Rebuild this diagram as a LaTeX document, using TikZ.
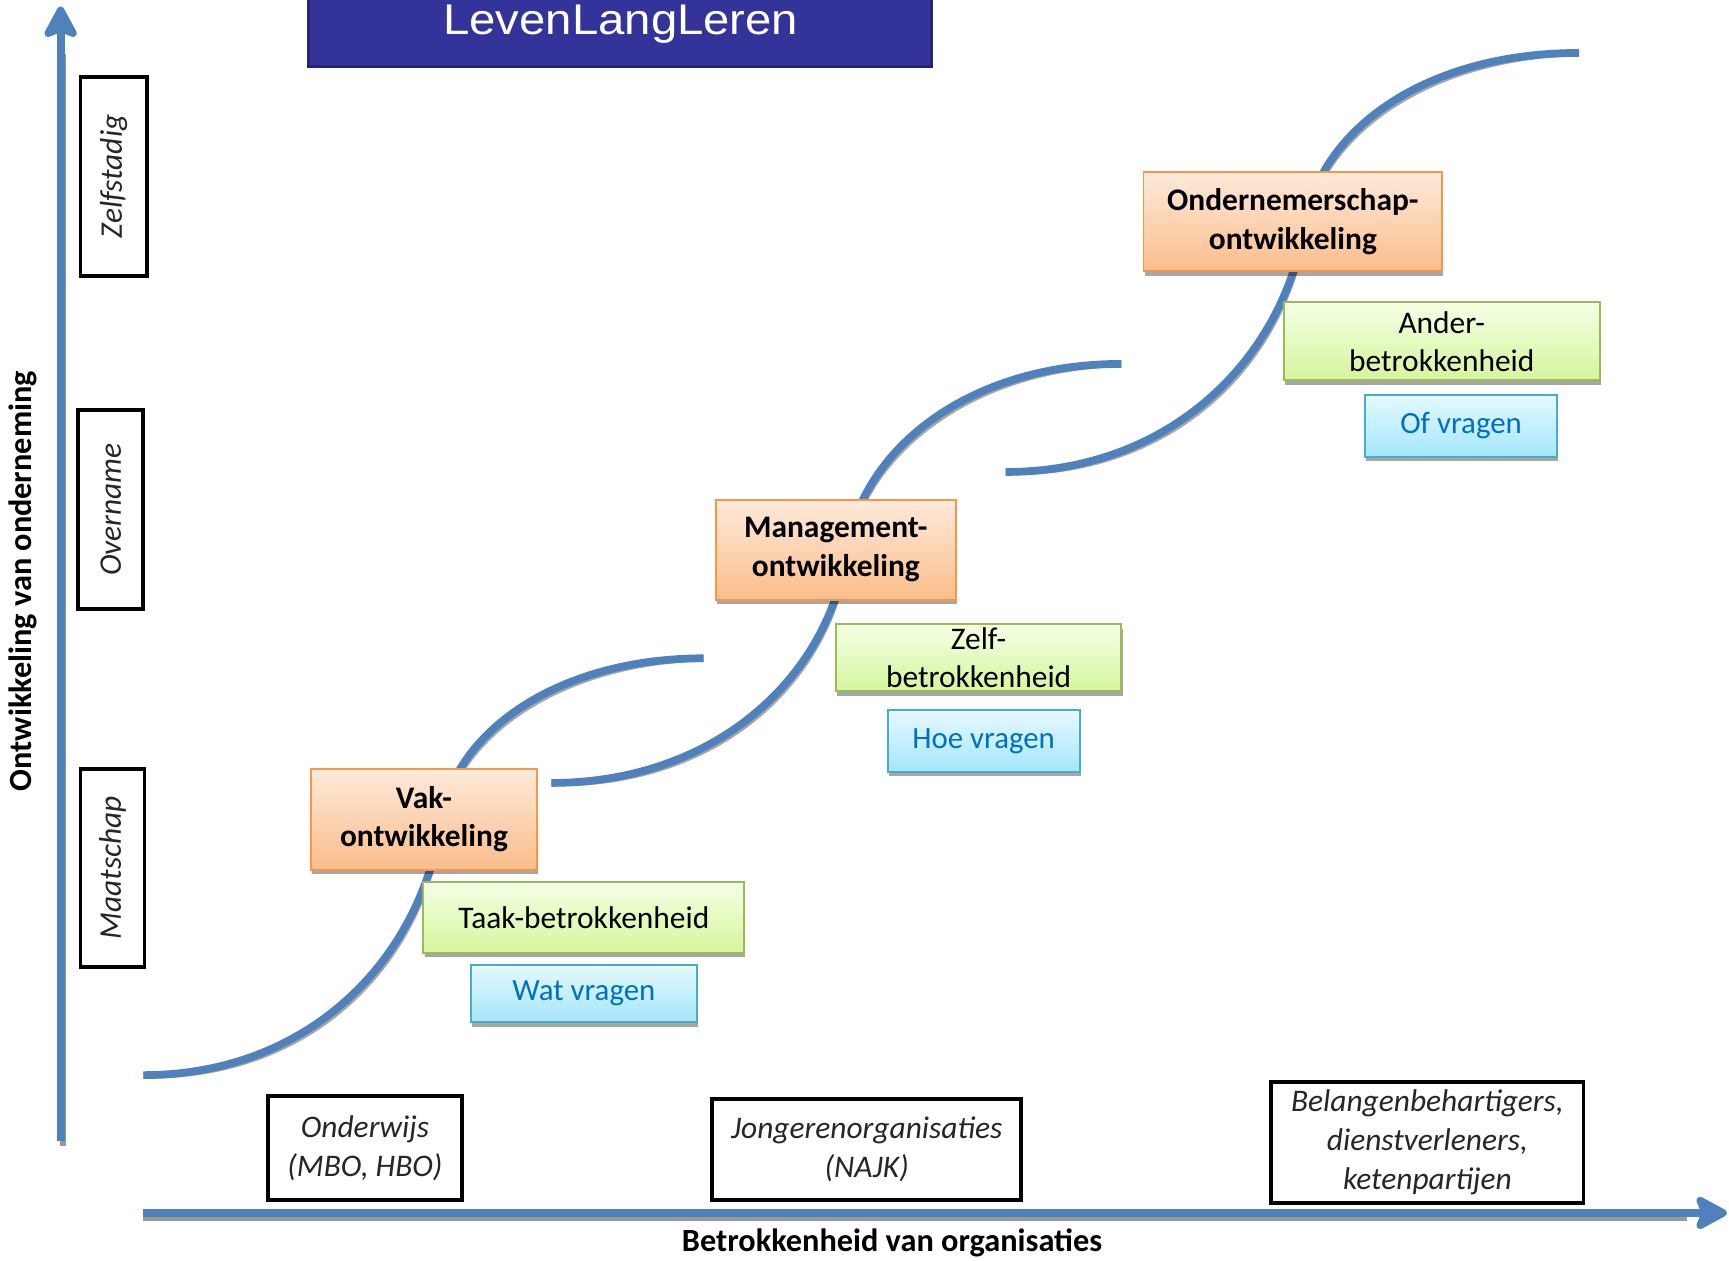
\documentclass[tikz,border=0pt]{standalone}
\usepackage{fontspec}
\setmainfont{Carlito}
\newfontfamily\titlefont{Liberation Sans}
\usepackage{graphicx}
\usetikzlibrary{shadows,arrows.meta}
\definecolor{curveblue}{HTML}{4F81BD}
\definecolor{orangeborder}{HTML}{F79646}
\definecolor{orangetop}{HTML}{FEEADB}
\definecolor{orangebot}{HTML}{FABD8A}
\definecolor{greenborder}{HTML}{9BBB59}
\definecolor{greentop}{HTML}{F5FFE4}
\definecolor{greenbot}{HTML}{D6F59E}
\definecolor{blueborder}{HTML}{4BACC6}
\definecolor{bluetop}{HTML}{E6F9FF}
\definecolor{bluebot}{HTML}{A4E6FB}
\definecolor{bluetext}{HTML}{0070C0}
\definecolor{titlefill}{HTML}{333399}
\definecolor{titleborder}{HTML}{24247A}
\definecolor{darktext}{HTML}{262626}
\begin{document}
\begin{tikzpicture}[x=1pt,y=-1pt,
  boxshadow/.style={drop shadow={shadow xshift=1pt,shadow yshift=-4pt,fill=black,opacity=0.35}},
  orangebox/.style={draw=orangeborder,line width=1.8pt,top color=orangetop,bottom color=orangebot,
    inner sep=0pt,align=center,font=\fontsize{28.5}{35}\selectfont\bfseries,boxshadow},
  greenbox/.style={draw=greenborder,line width=1.8pt,top color=greentop,bottom color=greenbot,
    inner sep=0pt,align=center,font=\fontsize{28.5}{34.5}\selectfont,boxshadow},
  bluebox/.style={draw=blueborder,line width=1.8pt,top color=bluetop,bottom color=bluebot,
    inner sep=0pt,align=center,text=bluetext,font=\fontsize{28}{34}\selectfont,boxshadow},
  sidebox/.style={draw=black,line width=3.5pt,fill=white,inner sep=0pt,rotate=90,
    text=darktext,font=\fontsize{28.5}{34}\selectfont\itshape},
  bottombox/.style={draw=black,line width=3.5pt,fill=white,inner sep=0pt,align=center,
    text=darktext,font=\fontsize{28.5}{35.5}\selectfont\itshape},
  titlebox/.style={draw=titleborder,line width=3pt,fill=titlefill,inner sep=0pt},
  axislabel/.style={font=\fontsize{29.3}{34}\selectfont\bfseries,inner sep=0pt},
  axisline/.style={draw=curveblue,line width=7pt,-{Stealth[length=34pt,width=36pt,inset=7pt,round]}},
  axisshadow/.style={draw=black!40,line width=6pt},
  curve/.style={draw=curveblue,line width=7pt},
  curveshadow/.style={draw=black!35,line width=6pt}
]
\useasboundingbox (0,0) rectangle (1568,1143);

% coordinates
\coordinate (yb) at (55,1035);
\coordinate (yt) at (55,6);
\coordinate (xl) at (130,1100);
\coordinate (xr) at (1566,1100);
\coordinate (s1) at (130,975);
\coordinate (m1) at (400,745);
\coordinate (e1) at (638,597);
\coordinate (s2) at (500,710);
\coordinate (m2) at (768,500);
\coordinate (e2) at (1017,330);
\coordinate (s3) at (912,428);
\coordinate (m3) at (1184,200);
\coordinate (e3) at (1432,48);

% axes
\draw[axisshadow] ([shift={(2,4)}]yb) -- ([shift={(2,4)}]55,45);
\draw[axisshadow] ([shift={(0,4)}]xl) -- ([shift={(0,4)}]1530,1100);
\draw[axisline] (yb) -- (yt);
\draw[axisline] (xl) -- (xr);

% S-curves shadows
\begin{scope}[shift={(2,3)}]
\draw[curveshadow] (s1) .. controls (278.5,975) and (381,872) .. (m1)
                       .. controls (412,663) and (507,597) .. (e1);
\draw[curveshadow] (s2) .. controls (647,710) and (751,616) .. (m2)
                       .. controls (782,406) and (880,330) .. (e2);
\draw[curveshadow] (s3) .. controls (1061,428) and (1165,326) .. (m3)
                       .. controls (1200,116) and (1294,48) .. (e3);
\end{scope}
% S-curves
\draw[curve] (s1) .. controls (278.5,975) and (381,872) .. (m1)
                  .. controls (412,663) and (507,597) .. (e1);
\draw[curve] (s2) .. controls (647,710) and (751,616) .. (m2)
                  .. controls (782,406) and (880,330) .. (e2);
\draw[curve] (s3) .. controls (1061,428) and (1165,326) .. (m3)
                  .. controls (1200,116) and (1294,48) .. (e3);

% title
\node[titlebox,minimum width=565pt,minimum height=100pt] (titlebg) at (562.5,10) {};
\node[anchor=base,text=white,inner sep=0pt,font=\titlefont\fontsize{39}{44}\selectfont] (title) at (563,31) {\scalebox{1.1}[1]{LevenLangLeren}};

% orange boxes
\node[orangebox,minimum width=205pt,minimum height=92pt] (vak) at (384.5,743) {Vak-\\ontwikkeling};
\node[orangebox,minimum width=218pt,minimum height=91pt] (mgmt) at (758,498.5) {Management-\\ontwikkeling};
\node[orangebox,minimum width=271pt,minimum height=90pt] (onder) at (1172.5,201) {Ondernemerschap-\\ontwikkeling};

% green boxes
\node[greenbox,minimum width=291pt,minimum height=64pt] (taak) at (529.5,832) {Taak-betrokkenheid};
\node[greenbox,minimum width=259pt,minimum height=61pt] (zelf) at (887.5,596.5) {Zelf-\\betrokkenheid};
\node[greenbox,minimum width=287pt,minimum height=71pt] (ander) at (1307.5,309.5) {Ander-\\betrokkenheid};

% blue boxes
\node[bluebox,minimum width=205pt,minimum height=52pt] (wat) at (529.5,901) {Wat vragen};
\node[bluebox,minimum width=174pt,minimum height=56pt] (hoe) at (892,672) {Hoe vragen};
\node[bluebox,minimum width=174pt,minimum height=56pt] (of) at (1325,386) {Of vragen};

% side boxes
\node[sidebox,minimum width=180pt,minimum height=60pt] (zelfst) at (103,160) {Zelfstadig};
\node[sidebox,minimum width=180pt,minimum height=59pt] (overname) at (100.5,462) {Overname};
\node[sidebox,minimum width=180pt,minimum height=58pt] (maatschap) at (102,787) {Maatschap};

% bottom boxes
\node[bottombox,minimum width=176pt,minimum height=94pt] (onderwijs) at (331,1041) {Onderwijs\\(MBO, HBO)};
\node[bottombox,minimum width=280pt,minimum height=91pt] (jong) at (786,1042.5) {Jongerenorganisaties\\(NAJK)};
\node[bottombox,minimum width=283pt,minimum height=110pt] (belang) at (1294.5,1036) {Belangenbehartigers,\\dienstverleners,\\ketenpartijen};

% axis labels
\node[axislabel,rotate=90] (ylab) at (21,527) {Ontwikkeling van onderneming};
\node[axislabel] (xlab) at (809,1127) {Betrokkenheid van organisaties};
\end{tikzpicture}
\end{document}
